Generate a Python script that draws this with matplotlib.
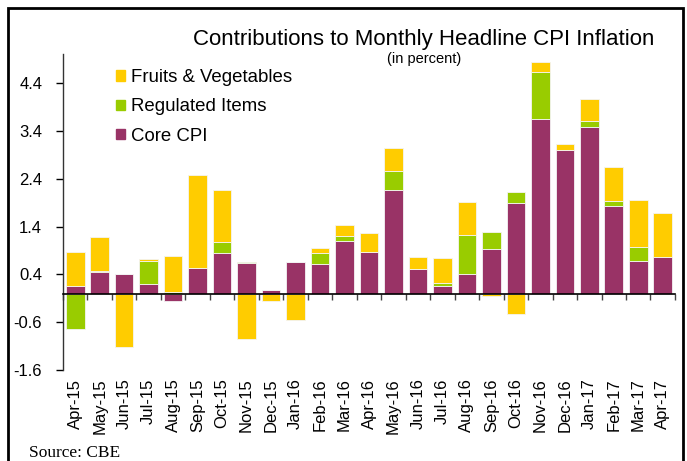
import numpy as np
import matplotlib
matplotlib.use('Agg')
import matplotlib.pyplot as plt
from matplotlib.patches import Patch, Rectangle

plt.rcParams['font.family'] = ['Liberation Sans', 'DejaVu Sans']

# 数据
months = ['Apr-15', 'May-15', 'Jun-15', 'Jul-15', 'Aug-15', 'Sep-15', 'Oct-15',
          'Nov-15', 'Dec-15', 'Jan-16', 'Feb-16', 'Mar-16', 'Apr-16', 'May-16',
          'Jun-16', 'Jul-16', 'Aug-16', 'Sep-16', 'Oct-16', 'Nov-16', 'Dec-16',
          'Jan-17', 'Feb-17', 'Mar-17', 'Apr-17']
core = [0.15, 0.45, 0.42, 0.21, -0.15, 0.54, 0.84, 0.64, 0.07, 0.67, 0.61, 1.11,
        0.86, 2.17, 0.51, 0.16, 0.42, 0.94, 1.90, 3.65, 3.00, 3.49, 1.83, 0.68, 0.76]
regulated = [-0.74, 0.02, 0.0, 0.47, 0.03, 0.0, 0.23, 0.02, 0.0, 0.0, 0.23, 0.10,
             0.0, 0.39, 0.0, 0.07, 0.81, 0.35, 0.23, 0.98, 0.0, 0.12, 0.11, 0.30, 0.0]
fruits_veg = [0.71, 0.71, -1.12, 0.04, 0.76, 1.93, 1.10, -0.95, -0.15, -0.56, 0.12,
              0.23, 0.40, 0.49, 0.26, 0.51, 0.69, -0.04, -0.43, 0.22, 0.12, 0.45,
              0.70, 0.97, 0.93]
y_ticks = [-1.6, -0.6, 0.4, 1.4, 2.4, 3.4, 4.4]

c_core = '#993366'
c_reg = '#99CC00'
c_fv = '#FFCC00'

fig = plt.figure(figsize=(6.87, 4.61), dpi=100)
ax = fig.add_axes([0.0917, 0.197, 0.8908, 0.685])

x = np.arange(len(months))
series = [(core, c_core), (regulated, c_reg), (fruits_veg, c_fv)]
pos_base = np.zeros(len(months))
neg_base = np.zeros(len(months))
for vals, col in series:
    v = np.array(vals)
    bottoms = np.where(v >= 0, pos_base, neg_base)
    ax.bar(x, v, bottom=bottoms, width=0.76, color=col,
           edgecolor='#f4f4f4', linewidth=0.6)
    pos_base += np.where(v >= 0, v, 0)
    neg_base += np.where(v < 0, v, 0)

ax.set_xlim(-0.5, len(months) - 0.5)
ax.set_ylim(-1.6, 5.0)
ax.set_yticks(y_ticks)
ax.set_yticklabels([f'{t:.1f}' for t in y_ticks], fontsize=12)
ax.tick_params(axis='y', direction='out', length=5, width=1, pad=10)

for s in ['top', 'right']:
    ax.spines[s].set_visible(False)
ax.spines['left'].set_linewidth(1)
ax.spines['left'].set_color('#333333')
# 零线及类别分隔刻度
ax.spines['bottom'].set_position(('data', 0))
ax.spines['bottom'].set_linewidth(1.2)
ax.set_xticks(np.arange(len(months) + 1) - 0.5)
ax.set_xticklabels([])
ax.tick_params(axis='x', direction='out', length=4, width=1, color='#444444')

# 月份标签放在底部
sec = ax.secondary_xaxis(0.0)
sec.set_xticks(x)
sec.set_xticklabels(months, rotation=90, fontsize=12)
sec.tick_params(length=0, pad=6)
sec.spines['bottom'].set_visible(False)

handles = [Patch(color=c_fv, label='Fruits & Vegetables'),
           Patch(color=c_reg, label='Regulated Items'),
           Patch(color=c_core, label='Core CPI')]
fig.legend(handles=handles, loc='upper left', bbox_to_anchor=(0.169, 0.850),
           frameon=False, fontsize=13.4, handlelength=0.5, handleheight=0.5,
           handletextpad=0.3, labelspacing=0.66, borderpad=0, borderaxespad=0)

fig.text(0.617, 0.914, 'Contributions to Monthly Headline CPI Inflation',
         ha='center', va='center', fontsize=16)
fig.text(0.617, 0.872, '(in percent)', ha='center', va='center', fontsize=10.5)
fig.text(0.042, 0.0, 'Source: CBE', family='Liberation Serif', fontsize=12.5,
         ha='left', va='bottom')

fig.patches.append(Rectangle((0.012, -0.05), 0.982, 1.033, transform=fig.transFigure,
                             fill=False, edgecolor='black', linewidth=2))

fig.savefig('out.png', dpi=100)
